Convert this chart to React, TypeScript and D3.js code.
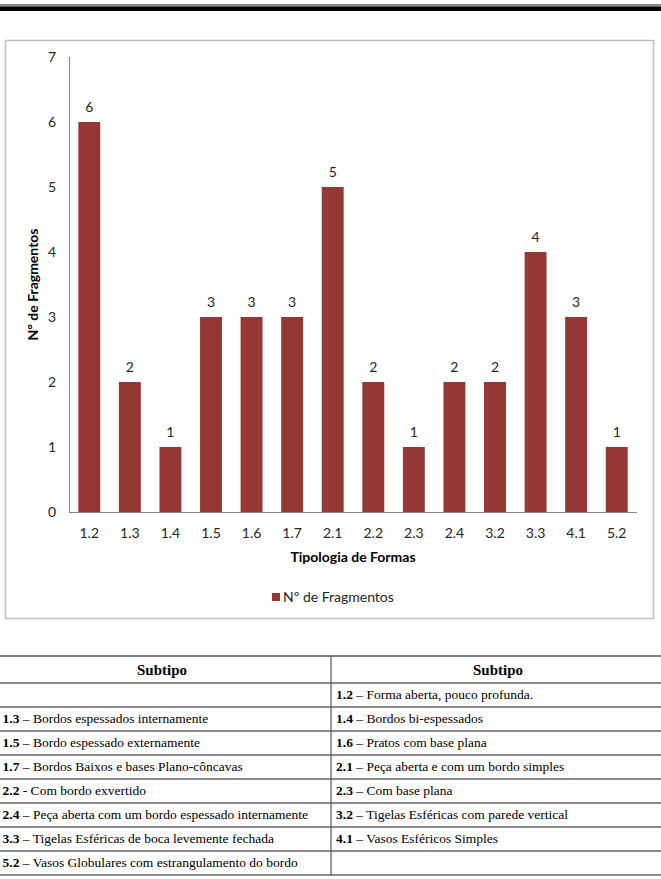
import React from "react";
import * as d3 from "d3";

const categories = ["1.2", "1.3", "1.4", "1.5", "1.6", "1.7", "2.1", "2.2", "2.3", "2.4", "3.2", "3.3", "4.1", "5.2"];
const values = [6, 2, 1, 3, 3, 3, 5, 2, 1, 2, 2, 4, 3, 1];
const yTicks = [0, 1, 2, 3, 4, 5, 6, 7];
const seriesName = "Nº de Fragmentos";
const xTitle = "Tipologia de Formas";
const yTitle = "Nº de Fragmentos";
const tableHeader = ["Subtipo", "Subtipo"];
const leftCodes = ["", "1.3", "1.5", "1.7", "2.2", "2.4", "3.3", "5.2"];
const leftDescs = ["", " – Bordos espessados internamente", " – Bordo espessado externamente", " – Bordos Baixos e bases Plano-côncavas", " - Com bordo exvertido", " – Peça aberta com um bordo espessado internamente", " – Tigelas Esféricas de boca levemente fechada", " – Vasos Globulares com estrangulamento do bordo"];
const rightCodes = ["1.2", "1.4", "1.6", "2.1", "2.3", "3.2", "4.1", ""];
const rightDescs = [" – Forma aberta, pouco profunda.", " – Bordos bi-espessados", " – Pratos com base plana", " – Peça aberta e com um bordo simples", " – Com base plana", " – Tigelas Esféricas com parede vertical", " – Vasos Esféricos Simples", ""];

const W = 661;
const H = 879;
const BAR = "#953735";
const SANS = "Lato, 'Open Sans', sans-serif";
const SERIF = "'Liberation Serif', 'Times New Roman', serif";
const FS = 14;

export default function App() {
  const x = d3.scaleBand<string>().domain(categories).range([69, 637]).paddingInner(0.46).paddingOuter(0.23);
  const y = d3.scaleLinear().domain([0, 7]).range([512, 57]);

  const tableTop = 656;
  const headerH = 27;
  const rowH = 24;
  const colSplit = 331;
  const rowYs = leftCodes.map((_, i) => tableTop + headerH + i * rowH);
  const lineYs = [tableTop, tableTop + headerH, ...rowYs.map((r) => r + rowH)];

  return (
    <svg width={W} height={H} style={{ position: "absolute", left: 0, top: 0, background: "#fff" }}>
      <rect x={0} y={0} width={W} height={H} fill="#fff" />
      {/* top band */}
      <rect x={0} y={4} width={W} height={2.5} fill="#8a8a8a" />
      <rect x={0} y={6.5} width={W} height={4.5} fill="#000" />

      {/* chart box */}
      <rect x={5.5} y={40.5} width={648} height={578} fill="#fff" stroke="#bfbfbf" strokeWidth={1.5} />

      {/* y tick labels */}
      {yTicks.map((t) => (
        <text key={t} x={56} y={y(t)} dy="0.35em" textAnchor="end" fontFamily={SANS} fontSize={FS} fill="#262626">
          {t}
        </text>
      ))}

      {/* bars */}
      {categories.map((c, i) => (
        <g key={c}>
          <rect x={x(c)} y={y(values[i])} width={x.bandwidth()} height={y(0) - y(values[i])} fill={BAR} />
          <text x={(x(c) as number) + x.bandwidth() / 2} y={y(values[i]) - 10} textAnchor="middle" fontFamily={SANS} fontSize={FS} fill="#262626">
            {values[i]}
          </text>
          <text x={(x(c) as number) + x.bandwidth() / 2} y={y(0) + 26} textAnchor="middle" fontFamily={SANS} fontSize={FS} fill="#262626">
            {c}
          </text>
        </g>
      ))}

      {/* axes */}
      <line x1={69.5} x2={69.5} y1={y(7)} y2={y(0)} stroke="#868686" strokeWidth={1} />
      <line x1={69} x2={637} y1={y(0) + 0.5} y2={y(0) + 0.5} stroke="#868686" strokeWidth={1} />

      {/* axis titles */}
      <text x={353} y={562} textAnchor="middle" fontFamily={SANS} fontSize={FS} fontWeight="bold" fill="#000">
        {xTitle}
      </text>
      <text transform={`translate(38, ${(y(0) + y(7)) / 2}) rotate(-90)`} textAnchor="middle" fontFamily={SANS} fontSize={FS} fontWeight="bold" fill="#000">
        {yTitle}
      </text>

      {/* legend */}
      <rect x={272} y={593} width={8} height={8} fill={BAR} />
      <text x={283} y={602} fontFamily={SANS} fontSize={FS} fill="#262626">
        {seriesName}
      </text>

      {/* table */}
      {lineYs.map((ly, i) => (
        <line key={i} x1={0} x2={W} y1={ly} y2={ly} stroke={i === 0 ? "#555" : "#8c8c8c"} strokeWidth={i === 0 ? 1.5 : 2} />
      ))}
      <line x1={colSplit} x2={colSplit} y1={tableTop} y2={lineYs[lineYs.length - 1]} stroke="#555" strokeWidth={1.2} />
      <text x={162} y={tableTop + 19} textAnchor="middle" fontFamily={SERIF} fontSize={15} fontWeight="bold" fill="#000">
        {tableHeader[0]}
      </text>
      <text x={498} y={tableTop + 19} textAnchor="middle" fontFamily={SERIF} fontSize={15} fontWeight="bold" fill="#000">
        {tableHeader[1]}
      </text>
      {rowYs.map((ry, i) => (
        <g key={i}>
          {leftCodes[i] && (
            <text x={2.5} y={ry + 16} fontFamily={SERIF} fontSize={13.5} fill="#000">
              <tspan fontWeight="bold">{leftCodes[i]}</tspan>
              <tspan>{leftDescs[i]}</tspan>
            </text>
          )}
          {rightCodes[i] && (
            <text x={336} y={ry + 16} fontFamily={SERIF} fontSize={13.5} fill="#000">
              <tspan fontWeight="bold">{rightCodes[i]}</tspan>
              <tspan>{rightDescs[i]}</tspan>
            </text>
          )}
        </g>
      ))}
    </svg>
  );
}
